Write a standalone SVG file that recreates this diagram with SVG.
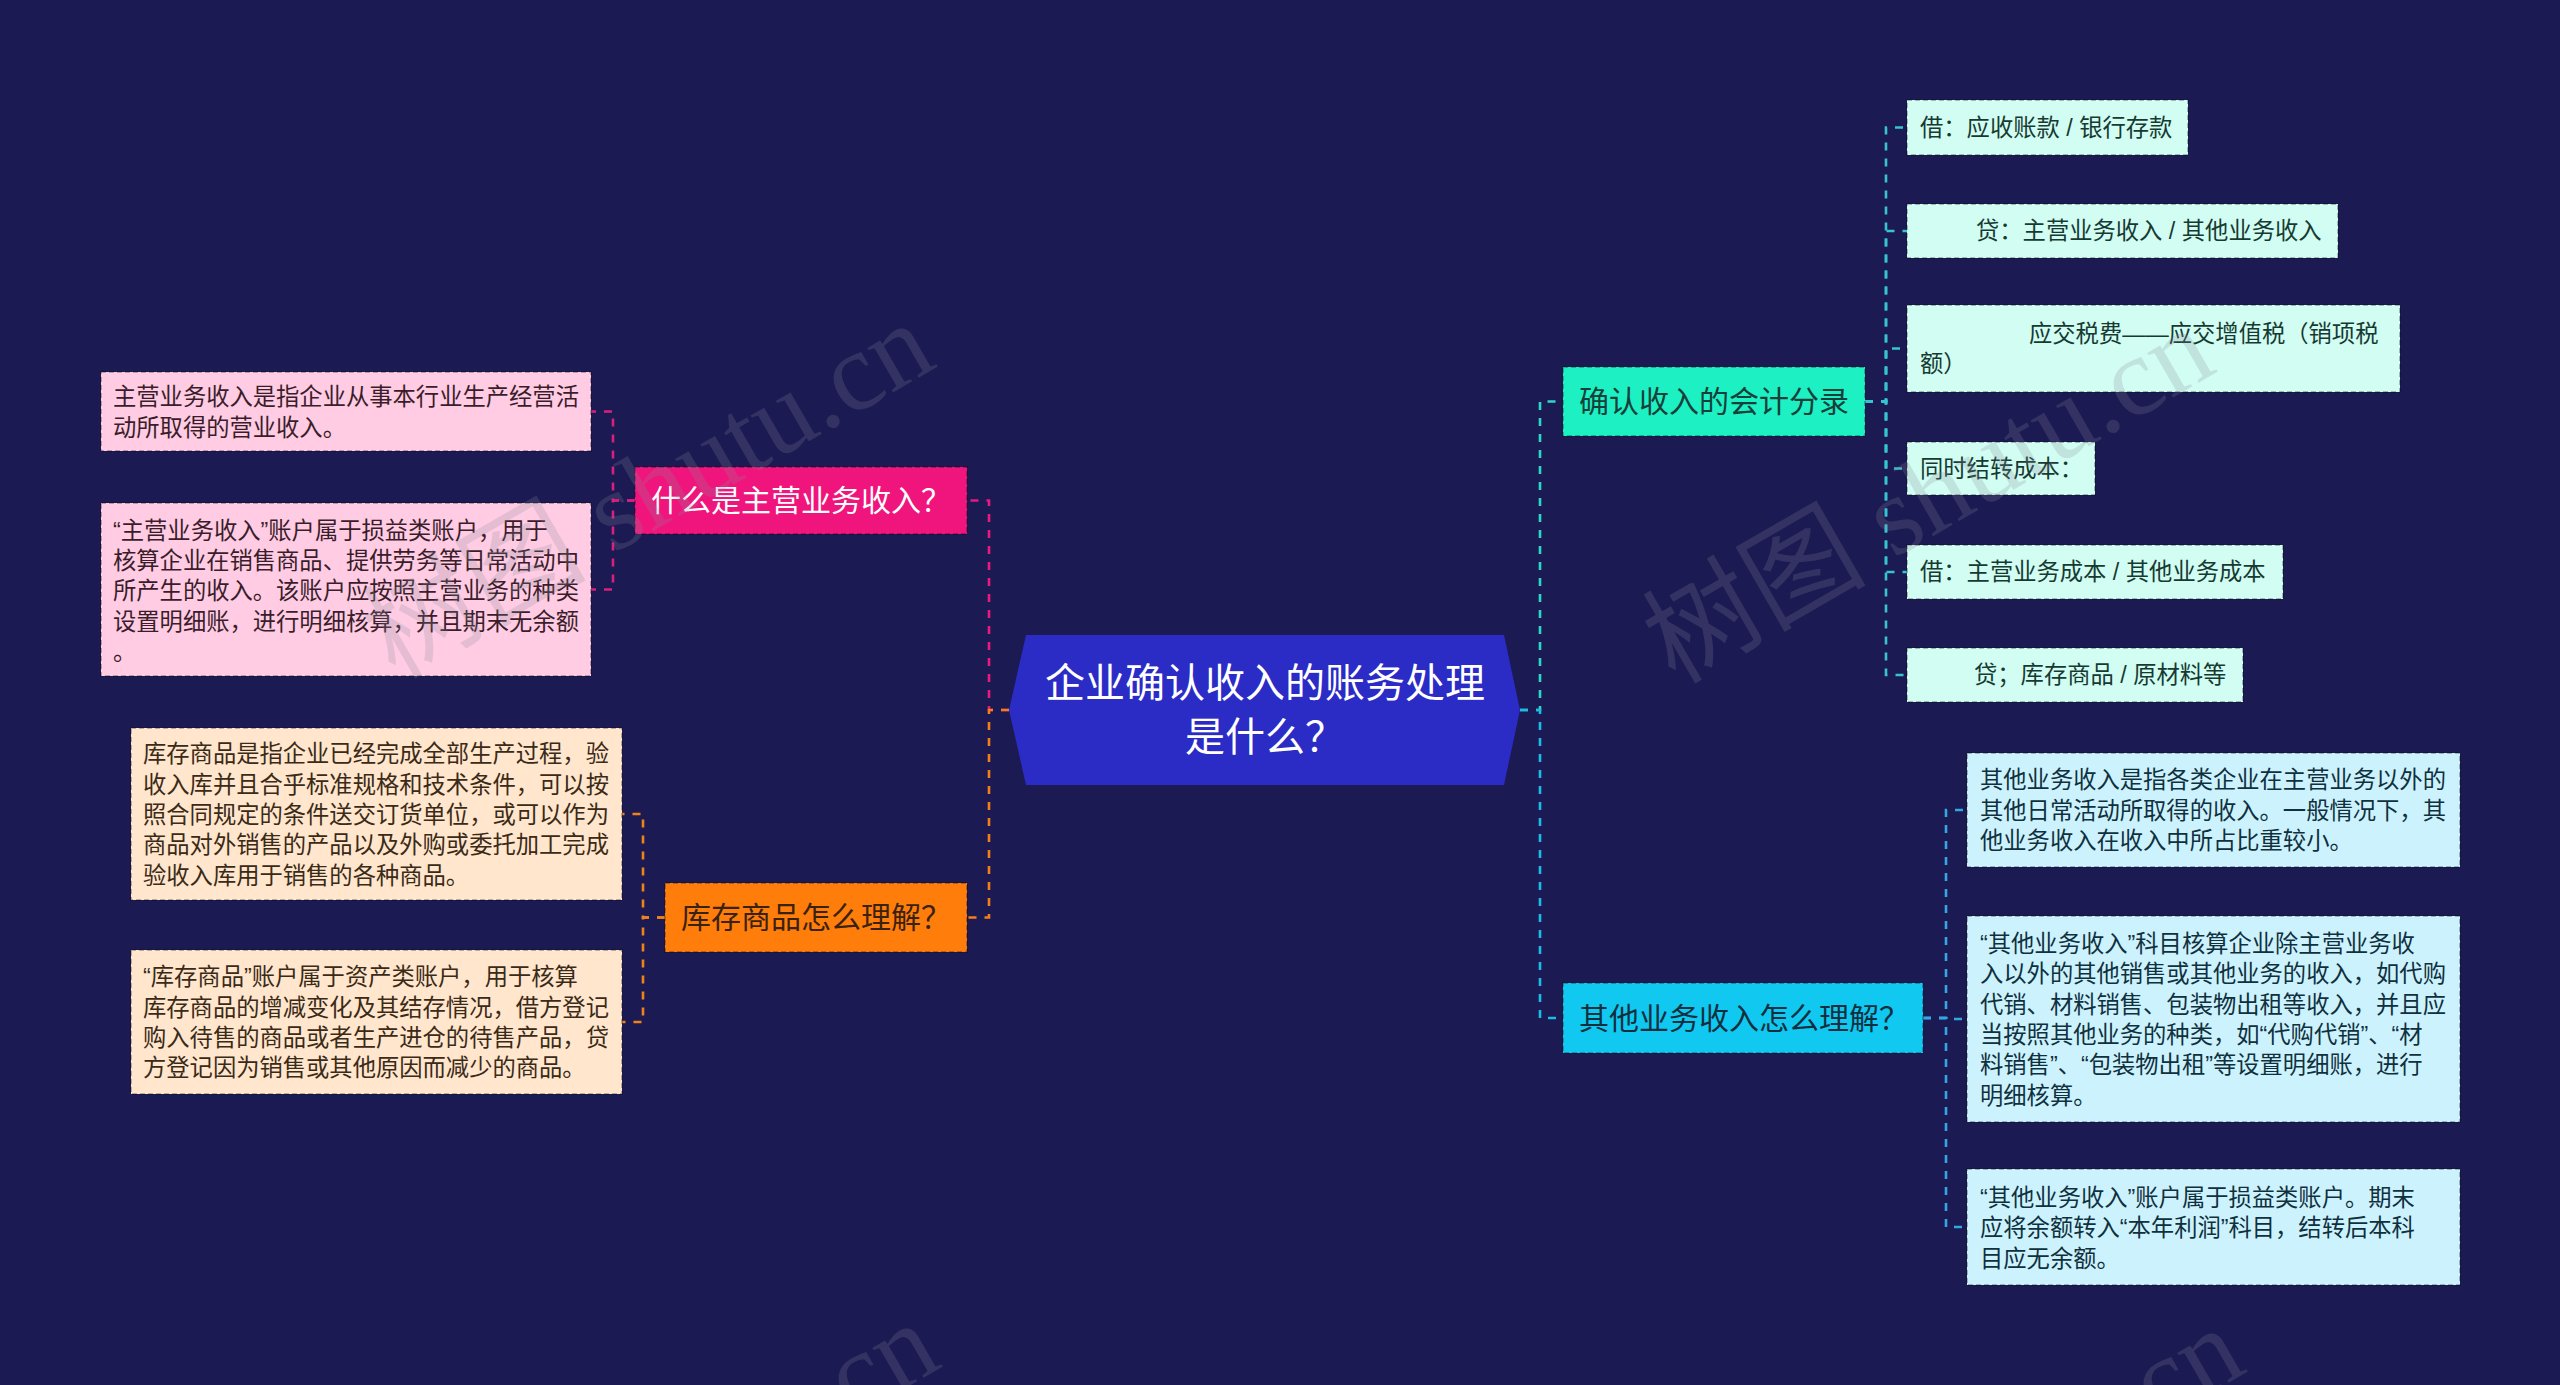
<svg xmlns="http://www.w3.org/2000/svg" width="2560" height="1385" viewBox="0 0 2560 1385">
<style>
text{font-family:"Liberation Sans","Noto Sans CJK SC",sans-serif;dominant-baseline:central}
.l1{font-size:30px}
.lf{font-size:23.3px}
.box{stroke:rgba(0,0,0,0.35);stroke-width:1.5;stroke-dasharray:5 3}
.c{fill:none;stroke-width:2.6;stroke-dasharray:8 8}
.wm{font-family:"Liberation Serif","Noto Sans CJK SC",serif;font-size:112px;fill:#8a8a9a;opacity:0.22;dominant-baseline:alphabetic}
</style>
<rect width="2560" height="1385" fill="#1c1a52"/>
<g id="connectors">
<path class="c" stroke="#e8197f" d="M1009,710 H989 V500.5 H967"/>
<path class="c" stroke="#f47e1c" d="M1009,710 H989 V917.5 H967"/>
<path class="c" stroke="#2fd6c6" d="M1520,710 H1540 V401.5 H1563"/>
<path class="c" stroke="#1cbce8" d="M1520,710 H1540 V1018 H1563"/>
<g stroke="#d8207f">
<path class="c" d="M635,500.5 H613 V411.5 H591"/>
<path class="c" d="M635,500.5 H613 V589.5 H591"/>
</g>
<g stroke="#f0821e">
<path class="c" d="M665,917.5 H643 V814 H622"/>
<path class="c" d="M665,917.5 H643 V1022 H622"/>
</g>
<g stroke="#36c4d2">
<path class="c" d="M1865,401.5 H1886 V127.5 H1907"/>
<path class="c" d="M1865,401.5 H1886 V231 H1907"/>
<path class="c" d="M1865,401.5 H1886 V348.5 H1907"/>
<path class="c" d="M1865,401.5 H1886 V468.5 H1907"/>
<path class="c" d="M1865,401.5 H1886 V572 H1907"/>
<path class="c" d="M1865,401.5 H1886 V675 H1907"/>
</g>
<g stroke="#34a6e2">
<path class="c" d="M1923,1018 H1946 V810 H1967"/>
<path class="c" d="M1923,1018 H1946 V1019 H1967"/>
<path class="c" d="M1923,1018 H1946 V1227 H1967"/>
</g>
</g>
<g id="center">
<polygon points="1009,710 1026,635 1504,635 1520,710 1504,785 1026,785" fill="#2b2bc6"/>
<text x="1265" y="683" font-size="40" fill="#ffffff" text-anchor="middle">企业确认收入的账务处理</text>
<text x="1265" y="737" font-size="40" fill="#ffffff" text-anchor="middle">是什么？</text>
</g>
<g id="n-main">
<rect class="box" x="635" y="467" width="332" height="67" fill="#f0157d"/>
<text class="l1" x="651" y="500.5" fill="#ffffff">什么是主营业务收入？</text>
</g>
<g id="n-stock">
<rect class="box" x="665" y="883" width="302" height="69" fill="#ff7d0a"/>
<text class="l1" x="681" y="917.5" fill="#3a2210">库存商品怎么理解？</text>
</g>
<g id="n-entry">
<rect class="box" x="1563" y="367" width="302" height="69" fill="#1df0c2"/>
<text class="l1" x="1579" y="401.5" fill="#17403a">确认收入的会计分录</text>
</g>
<g id="n-other">
<rect class="box" x="1563" y="983" width="360" height="70" fill="#10c8f0"/>
<text class="l1" x="1579" y="1018" fill="#10303f">其他业务收入怎么理解？</text>
</g>
<g id="p1">
<rect class="box" x="101" y="372" width="490" height="79" fill="#ffcce4"/>
<text class="lf" fill="#3a1d2a"><tspan x="113" y="397">主营业务收入是指企业从事本行业生产经营活</tspan><tspan x="113" y="428">动所取得的营业收入。</tspan></text>
</g>
<g id="p2">
<rect class="box" x="101" y="503" width="490" height="173" fill="#ffcce4"/>
<text class="lf" fill="#3a1d2a"><tspan x="113" y="530.5">“主营业务收入”账户属于损益类账户，用于</tspan><tspan x="113" y="561">核算企业在销售商品、提供劳务等日常活动中</tspan><tspan x="113" y="591">所产生的收入。该账户应按照主营业务的种类</tspan><tspan x="113" y="622">设置明细账，进行明细核算，并且期末无余额</tspan><tspan x="113" y="652">。</tspan></text>
</g>
<g id="s1">
<rect class="box" x="131" y="728" width="491" height="172" fill="#ffe6cc"/>
<text class="lf" fill="#3a2a18"><tspan x="143" y="754">库存商品是指企业已经完成全部生产过程，验</tspan><tspan x="143" y="784.5">收入库并且合乎标准规格和技术条件，可以按</tspan><tspan x="143" y="815">照合同规定的条件送交订货单位，或可以作为</tspan><tspan x="143" y="845">商品对外销售的产品以及外购或委托加工完成</tspan><tspan x="143" y="875.5">验收入库用于销售的各种商品。</tspan></text>
</g>
<g id="s2">
<rect class="box" x="131" y="950" width="491" height="144" fill="#ffe6cc"/>
<text class="lf" fill="#3a2a18"><tspan x="143" y="977">“库存商品”账户属于资产类账户，用于核算</tspan><tspan x="143" y="1007.5">库存商品的增减变化及其结存情况，借方登记</tspan><tspan x="143" y="1038">购入待售的商品或者生产进仓的待售产品，贷</tspan><tspan x="143" y="1068">方登记因为销售或其他原因而减少的商品。</tspan></text>
</g>
<g id="e1">
<rect class="box" x="1907" y="100" width="281" height="55" fill="#d2fdf2"/>
<text class="lf" x="1920" y="127.5" fill="#163a32">借：应收账款 / 银行存款</text>
</g>
<g id="e2">
<rect class="box" x="1907" y="204" width="431" height="54" fill="#d2fdf2"/>
<text class="lf" x="1976" y="231" fill="#163a32">贷：主营业务收入 / 其他业务收入</text>
</g>
<g id="e3">
<rect class="box" x="1907" y="305" width="493" height="87" fill="#d2fdf2"/>
<text class="lf" fill="#163a32"><tspan x="2029" y="334">应交税费——应交增值税（销项税</tspan><tspan x="1920" y="364">额）</tspan></text>
</g>
<g id="e4">
<rect class="box" x="1907" y="442" width="188" height="53" fill="#d2fdf2"/>
<text class="lf" x="1920" y="468.5" fill="#163a32">同时结转成本：</text>
</g>
<g id="e5">
<rect class="box" x="1907" y="545" width="376" height="54" fill="#d2fdf2"/>
<text class="lf" x="1920" y="572" fill="#163a32">借：主营业务成本 / 其他业务成本</text>
</g>
<g id="e6">
<rect class="box" x="1907" y="648" width="336" height="54" fill="#d2fdf2"/>
<text class="lf" x="1974" y="675" fill="#163a32">贷；库存商品 / 原材料等</text>
</g>
<g id="o1">
<rect class="box" x="1967" y="753" width="493" height="114" fill="#ccf3fd"/>
<text class="lf" fill="#10303e"><tspan x="1980" y="780">其他业务收入是指各类企业在主营业务以外的</tspan><tspan x="1980" y="810.5">其他日常活动所取得的收入。一般情况下，其</tspan><tspan x="1980" y="841">他业务收入在收入中所占比重较小。</tspan></text>
</g>
<g id="o2">
<rect class="box" x="1967" y="916" width="493" height="206" fill="#ccf3fd"/>
<text class="lf" fill="#10303e"><tspan x="1980" y="943.5">“其他业务收入”科目核算企业除主营业务收</tspan><tspan x="1980" y="974">入以外的其他销售或其他业务的收入，如代购</tspan><tspan x="1980" y="1004.5">代销、材料销售、包装物出租等收入，并且应</tspan><tspan x="1980" y="1035">当按照其他业务的种类，如“代购代销”、“材</tspan><tspan x="1980" y="1065">料销售”、“包装物出租”等设置明细账，进行</tspan><tspan x="1980" y="1095.5">明细核算。</tspan></text>
</g>
<g id="o3">
<rect class="box" x="1967" y="1169" width="493" height="116" fill="#ccf3fd"/>
<text class="lf" fill="#10303e"><tspan x="1980" y="1197.5">“其他业务收入”账户属于损益类账户。期末</tspan><tspan x="1980" y="1228">应将余额转入“本年利润”科目，结转后本科</tspan><tspan x="1980" y="1258.5">目应无余额。</tspan></text>
</g>
<g id="watermarks">
<text class="wm" transform="translate(395,680) rotate(-30)">树图 shutu.cn</text>
<text class="wm" transform="translate(1675,685) rotate(-30)">树图 shutu.cn</text>
<text class="wm" transform="translate(400,1680) rotate(-30)">树图 shutu.cn</text>
<text class="wm" transform="translate(1705,1685) rotate(-30)">树图 shutu.cn</text>
</g>
</svg>
